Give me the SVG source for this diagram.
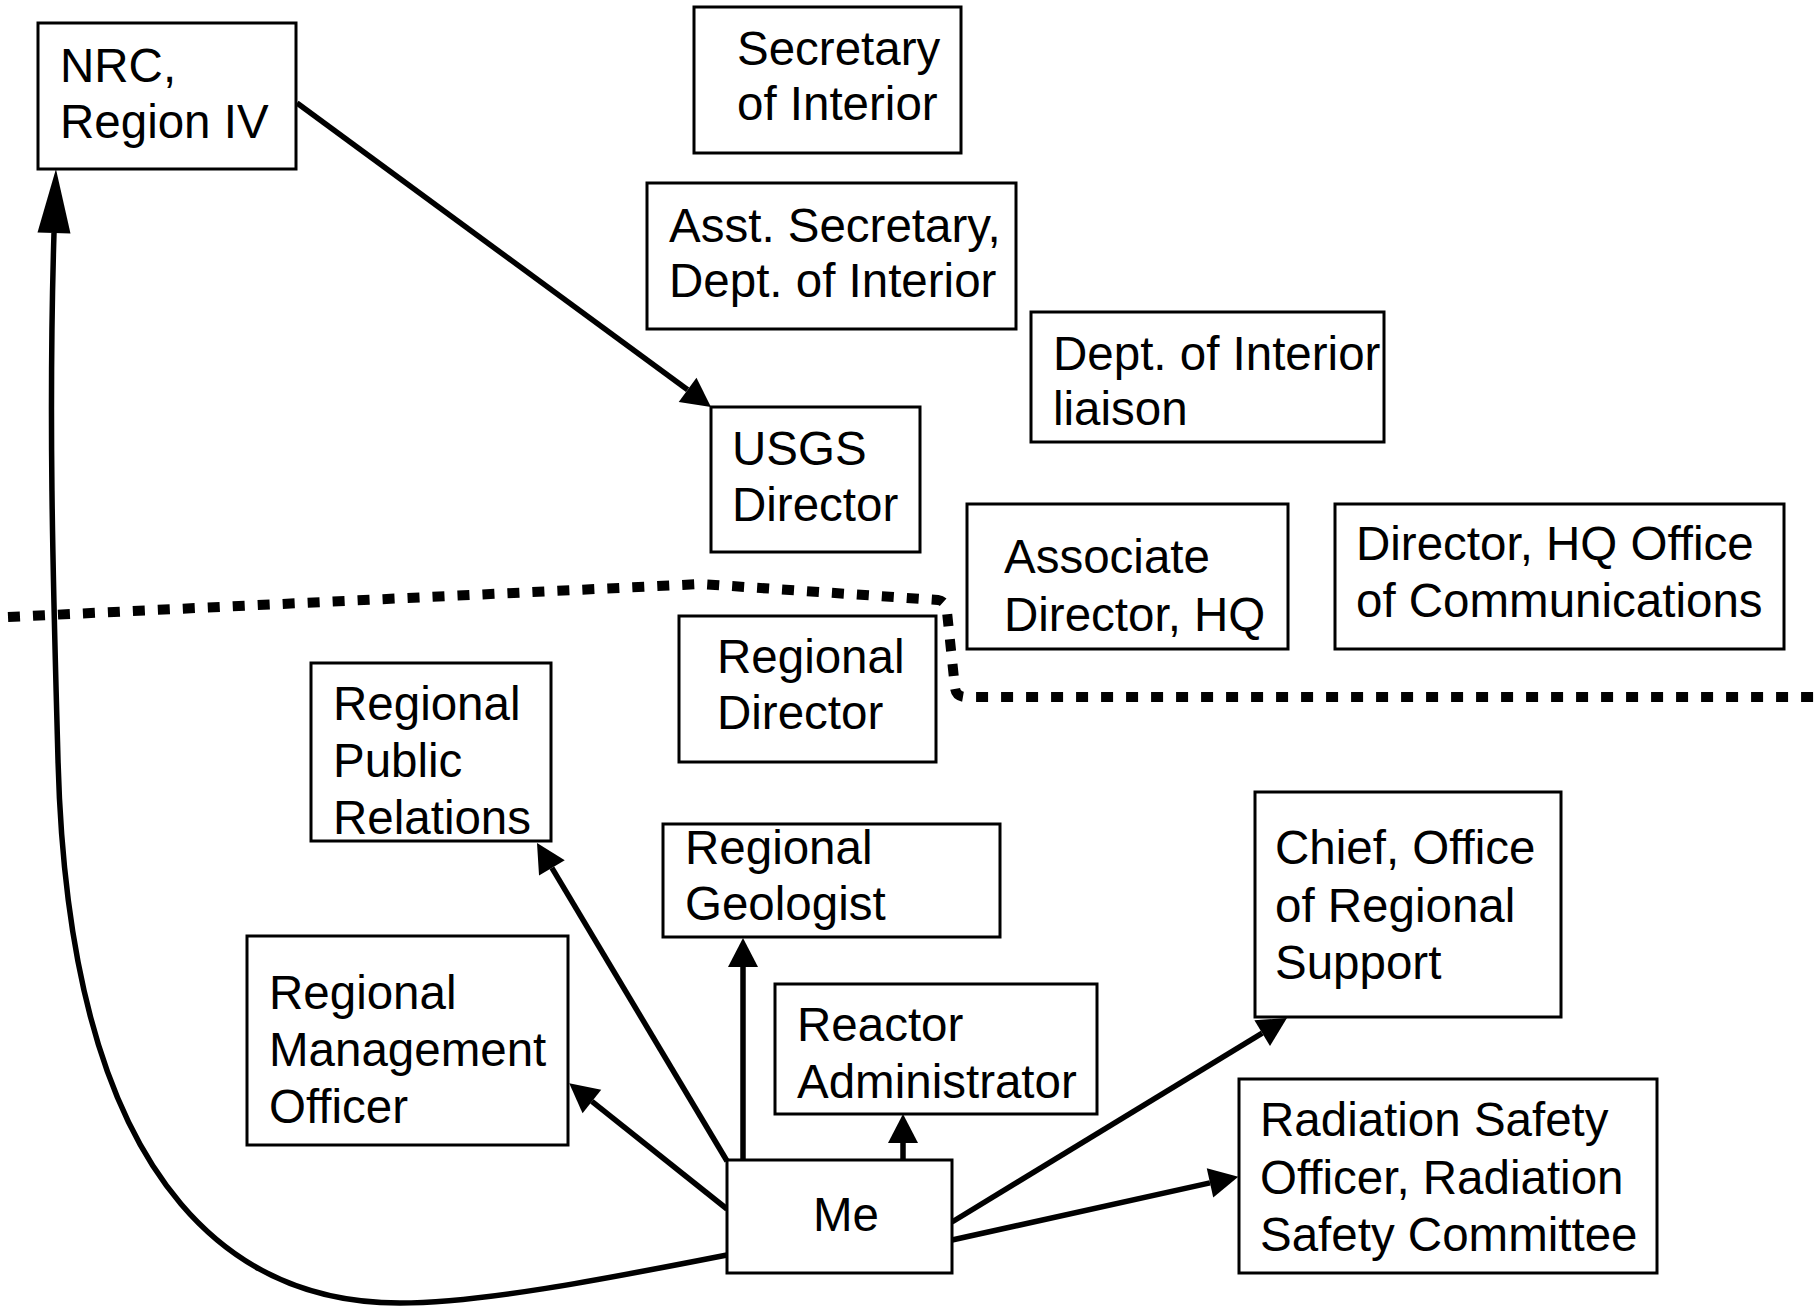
<svg xmlns="http://www.w3.org/2000/svg" width="1819" height="1306" viewBox="0 0 1819 1306">
<style>
  .box { fill: #ffffff; stroke: #000000; stroke-width: 3; }
  .lbl { font-family: "Liberation Sans", Arial, Helvetica, sans-serif; font-size: 47.5px; fill: #000000; }
  .edge { fill: none; stroke: #000000; stroke-width: 5.5; }
  .divider { fill: none; stroke: #000000; stroke-width: 10; stroke-dasharray: 12 13; }
</style>
<defs>
  <marker id="ah" markerUnits="userSpaceOnUse" markerWidth="30" markerHeight="32" viewBox="0 -16 30 32" refX="0" refY="0" orient="auto" overflow="visible">
    <path d="M0,-15 L29,0 L0,15 z" fill="#000000"/>
  </marker>
  <marker id="ahLong" markerUnits="userSpaceOnUse" markerWidth="65" markerHeight="34" viewBox="0 -17 65 34" refX="0" refY="0" orient="auto" overflow="visible">
    <path d="M0,-16.5 L64,0 L0,16.5 z" fill="#000000"/>
  </marker>
</defs>
<rect x="0" y="0" width="1819" height="1306" fill="#ffffff"/>

<g id="divider">
  <path class="divider" d="M8,617 L701,584 L938,600 Q946,601 947,612 L955,688 Q956,697 966,697 L1819,697"/>
</g>

<g id="connectors">
  <path class="edge" d="M297,103 L687.6,389.8" marker-end="url(#ah)"/>
  <path class="edge" d="M727,1161 L551.9,867.9" marker-end="url(#ah)"/>
  <path class="edge" d="M743,1160 L743,967" marker-end="url(#ah)"/>
  <path class="edge" d="M903,1160 L903,1143" marker-end="url(#ah)"/>
  <path class="edge" d="M727,1209 L591.9,1101.4" marker-end="url(#ah)"/>
  <path class="edge" d="M952,1222 L1262.2,1033.1" marker-end="url(#ah)"/>
  <path class="edge" d="M952,1240 L1210,1182.9" marker-end="url(#ah)"/>
  <path class="edge" d="M727,1255 C600,1280 480,1303 400,1303 C260,1303 70,1220 58,760 C54,610 48,430 54,233" marker-end="url(#ahLong)"/>
</g>

<g id="node-nrc">
  <rect class="box" x="38" y="23" width="258" height="146"/>
  <text class="lbl" x="60" y="82">NRC,</text>
  <text class="lbl" x="60" y="138">Region IV</text>
</g>
<g id="node-secretary">
  <rect class="box" x="694" y="7" width="267" height="146"/>
  <text class="lbl" x="737" y="65">Secretary</text>
  <text class="lbl" x="737" y="120">of Interior</text>
</g>
<g id="node-asst-secretary">
  <rect class="box" x="647" y="183" width="369" height="146"/>
  <text class="lbl" x="669" y="242">Asst. Secretary,</text>
  <text class="lbl" x="669" y="297">Dept. of Interior</text>
</g>
<g id="node-liaison">
  <rect class="box" x="1031" y="312" width="353" height="130"/>
  <text class="lbl" x="1053" y="370">Dept. of Interior</text>
  <text class="lbl" x="1053" y="425">liaison</text>
</g>
<g id="node-usgs">
  <rect class="box" x="711" y="407" width="209" height="145"/>
  <text class="lbl" x="732" y="465">USGS</text>
  <text class="lbl" x="732" y="521">Director</text>
</g>
<g id="node-assoc-director">
  <rect class="box" x="967" y="504" width="321" height="145"/>
  <text class="lbl" x="1004" y="573">Associate</text>
  <text class="lbl" x="1004" y="631">Director, HQ</text>
</g>
<g id="node-hq-communications">
  <rect class="box" x="1335" y="504" width="449" height="145"/>
  <text class="lbl" x="1356" y="560">Director, HQ Office</text>
  <text class="lbl" x="1356" y="617">of Communications</text>
</g>
<g id="node-regional-director">
  <rect class="box" x="679" y="616" width="257" height="146"/>
  <text class="lbl" x="717" y="673">Regional</text>
  <text class="lbl" x="717" y="729">Director</text>
</g>
<g id="node-public-relations">
  <rect class="box" x="311" y="663" width="240" height="178"/>
  <text class="lbl" x="333" y="720">Regional</text>
  <text class="lbl" x="333" y="777">Public</text>
  <text class="lbl" x="333" y="834">Relations</text>
</g>
<g id="node-geologist">
  <rect class="box" x="663" y="824" width="337" height="113"/>
  <text class="lbl" x="685" y="864">Regional</text>
  <text class="lbl" x="685" y="920">Geologist</text>
</g>
<g id="node-management-officer">
  <rect class="box" x="247" y="936" width="321" height="209"/>
  <text class="lbl" x="269" y="1009">Regional</text>
  <text class="lbl" x="269" y="1066">Management</text>
  <text class="lbl" x="269" y="1123">Officer</text>
</g>
<g id="node-reactor">
  <rect class="box" x="775" y="984" width="322" height="130"/>
  <text class="lbl" x="797" y="1041">Reactor</text>
  <text class="lbl" x="797" y="1098">Administrator</text>
</g>
<g id="node-me">
  <rect class="box" x="727" y="1160" width="225" height="113"/>
  <text class="lbl" x="846" y="1231" text-anchor="middle">Me</text>
</g>
<g id="node-chief">
  <rect class="box" x="1255" y="792" width="306" height="225"/>
  <text class="lbl" x="1275" y="864">Chief, Office</text>
  <text class="lbl" x="1275" y="922">of Regional</text>
  <text class="lbl" x="1275" y="979">Support</text>
</g>
<g id="node-radiation">
  <rect class="box" x="1239" y="1079" width="418" height="194"/>
  <text class="lbl" x="1260" y="1136">Radiation Safety</text>
  <text class="lbl" x="1260" y="1194">Officer, Radiation</text>
  <text class="lbl" x="1260" y="1251">Safety Committee</text>
</g>
</svg>
